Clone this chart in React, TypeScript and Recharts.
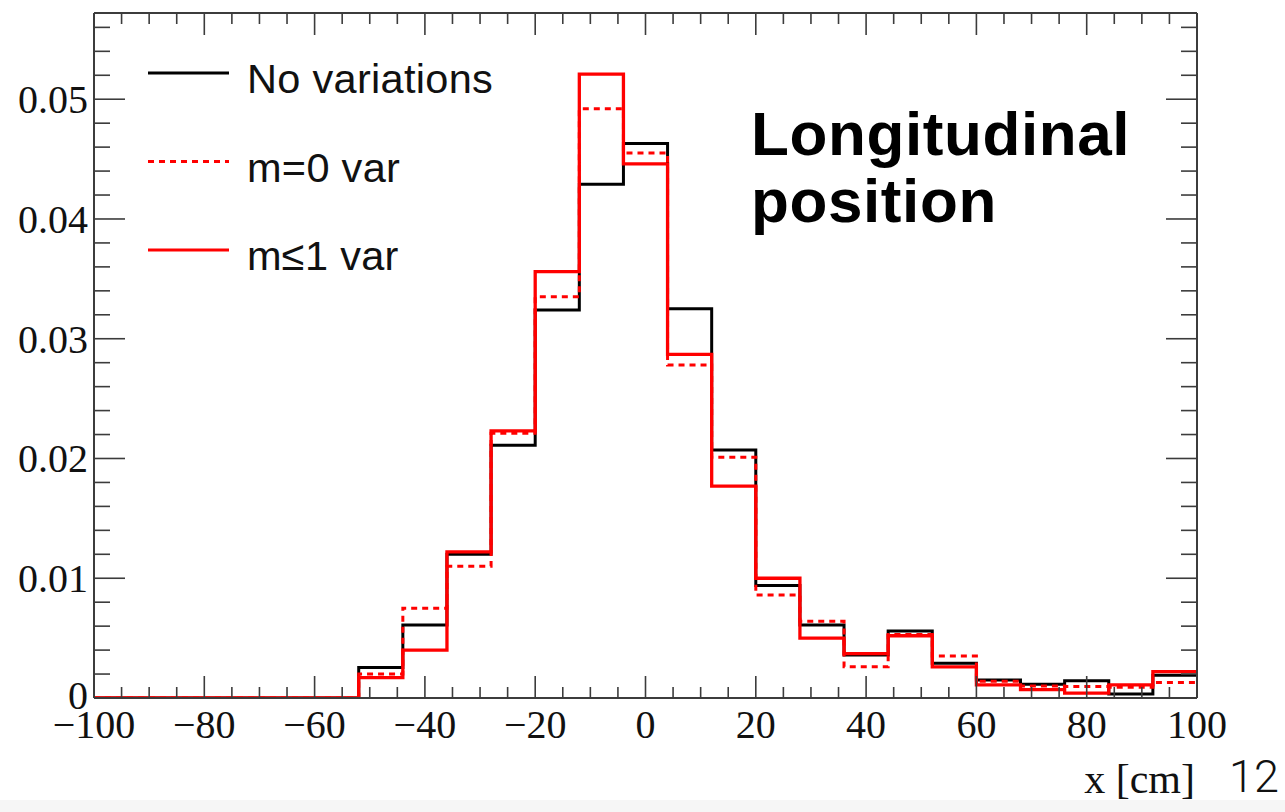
import React from 'react';
import { ComposedChart, Line, XAxis, YAxis, Legend } from 'recharts';

// Bin edges (cm) of the histogram, 25 bins of width 8
const binEdges = [-100, -92, -84, -76, -68, -60, -52, -44, -36, -28, -20, -12, -4, 4, 12, 20, 28, 36, 44, 52, 60, 68, 76, 84, 92, 100];

// Bin contents (one per bin)
const noVariations = [0, 0, 0, 0, 0, 0, 0.00254, 0.0061, 0.0120, 0.0211, 0.0324, 0.0429, 0.0463, 0.0325, 0.0207, 0.0094, 0.0061, 0.0036, 0.0056, 0.0029, 0.0015, 0.00114, 0.00145, 0.00033, 0.0019];
const m0Var = [0, 0, 0, 0, 0, 0, 0.0020, 0.0075, 0.0110, 0.0221, 0.0335, 0.0492, 0.0455, 0.0278, 0.0201, 0.0086, 0.0064, 0.0026, 0.0053, 0.0035, 0.0014, 0.0010, 0.00095, 0.0009, 0.0013];
const m1Var = [0, 0, 0, 0, 0, 0, 0.0017, 0.0040, 0.0122, 0.0223, 0.0356, 0.0521, 0.0446, 0.0287, 0.0177, 0.0100, 0.0050, 0.0037, 0.0052, 0.0026, 0.0011, 0.0007, 0.0004, 0.0011, 0.0022];

const seriesNames = ['No variations', 'm=0 var', 'm\u22641 var'];

// Axis ticks
const xTicks = [-100, -95, -90, -85, -80, -75, -70, -65, -60, -55, -50, -45, -40, -35, -30, -25, -20, -15, -10, -5, 0, 5, 10, 15, 20, 25, 30, 35, 40, 45, 50, 55, 60, 65, 70, 75, 80, 85, 90, 95, 100];
const xTickLabels: Record<number, string> = { [-100]: '\u2212100', [-80]: '\u221280', [-60]: '\u221260', [-40]: '\u221240', [-20]: '\u221220', 0: '0', 20: '20', 40: '40', 60: '60', 80: '80', 100: '100' };
const yTicks = [0, 0.002, 0.004, 0.006, 0.008, 0.01, 0.012, 0.014, 0.016, 0.018, 0.02, 0.022, 0.024, 0.026, 0.028, 0.03, 0.032, 0.034, 0.036, 0.038, 0.04, 0.042, 0.044, 0.046, 0.048, 0.05, 0.052, 0.054, 0.056];
const yTickLabels: Record<string, string> = { '0': '0', '0.01': '0.01', '0.02': '0.02', '0.03': '0.03', '0.04': '0.04', '0.05': '0.05' };

const data = binEdges.map((x, i) => {
  const k = Math.min(i, noVariations.length - 1);
  return { x, noVar: noVariations[k], m0: m0Var[k], m1: m1Var[k] };
});

const FRAME = '#3c3c3c';
const SERIF = '"Liberation Serif", "Times New Roman", serif';
const SANS = '"Liberation Sans", Arial, Helvetica, sans-serif';

const isMajorX = (v: number) => Math.abs(v % 20) < 1e-9;
const yKey = (v: number) => String(Math.round(v * 1000) / 1000);
const isMajorY = (v: number) => yTickLabels[yKey(v)] !== undefined;

const BottomTick = (props: any) => {
  const { x, y, payload } = props;
  const v = payload.value;
  const major = isMajorX(v);
  return (
    <g>
      <line x1={x} x2={x} y1={y} y2={y - (major ? 22 : 11)} stroke={FRAME} strokeWidth={1.6} />
      {major && (
        <text x={x} y={y + 40} textAnchor="middle" fontFamily={SERIF} fontSize={40} fill="#111">
          {xTickLabels[v]}
        </text>
      )}
    </g>
  );
};

const TopTick = (props: any) => {
  const { x, y, payload } = props;
  const major = isMajorX(payload.value);
  return <line x1={x} x2={x} y1={y} y2={y + (major ? 22 : 11)} stroke={FRAME} strokeWidth={1.6} />;
};

const LeftTick = (props: any) => {
  const { x, y, payload } = props;
  const v = payload.value;
  const major = isMajorY(v);
  const isZero = Math.abs(v) < 1e-9;
  return (
    <g>
      <line x1={x} x2={x + (major ? 31 : 16)} y1={y} y2={y} stroke={FRAME} strokeWidth={1.6} />
      {major && (
        <text x={x - 6} y={y + (isZero ? 11 : 14)} textAnchor="end" fontFamily={SERIF} fontSize={40} fill="#111">
          {yTickLabels[yKey(v)]}
        </text>
      )}
    </g>
  );
};

const RightTick = (props: any) => {
  const { x, y, payload } = props;
  const major = isMajorY(payload.value);
  return <line x1={x} x2={x - (major ? 31 : 16)} y1={y} y2={y} stroke={FRAME} strokeWidth={1.6} />;
};

const lineStyles = [
  { stroke: '#000000', dash: undefined as string | undefined },
  { stroke: '#ff0000', dash: '6 5' },
  { stroke: '#ff0000', dash: undefined as string | undefined },
];

const LegendContent = (props: any) => {
  const payload = props.payload || [];
  return (
    <svg width={520} height={300} style={{ overflow: 'visible' }}>
      {seriesNames.map((name, i) => {
        const ly = 73 + i * 88.5;
        const entry = payload[i];
        const st = lineStyles[i];
        return (
          <g key={name}>
            <line x1={148} x2={229} y1={ly} y2={ly} stroke={entry?.color || st.stroke} strokeWidth={3} strokeDasharray={st.dash} />
            <text x={247} y={ly + 20} fontFamily={SANS} fontSize={41.5} letterSpacing={0.3} fill="#111">
              {entry?.value || name}
            </text>
          </g>
        );
      })}
    </svg>
  );
};

export default function App() {
  return (
    <div style={{ position: 'absolute', left: 0, top: 0, width: 1285, height: 812, background: '#fff' }}>
      <div style={{ position: 'absolute', left: 0, top: 800, width: 1285, height: 12, background: '#f6f6f6' }} />
      <ComposedChart width={1285} height={812} data={data} margin={{ top: 0, right: 0, bottom: 0, left: 0 }}>
        <XAxis xAxisId="b" dataKey="x" type="number" domain={[-100, 100]} allowDataOverflow ticks={xTicks} interval={0}
          orientation="bottom" height={114} tickSize={0} tickMargin={0} tickLine={false}
          axisLine={{ stroke: FRAME, strokeWidth: 2 }} tick={<BottomTick />} />
        <XAxis xAxisId="t" dataKey="x" type="number" domain={[-100, 100]} allowDataOverflow ticks={xTicks} interval={0}
          orientation="top" height={13} tickSize={0} tickMargin={0} tickLine={false}
          axisLine={{ stroke: FRAME, strokeWidth: 2 }} tick={<TopTick />} />
        <YAxis yAxisId="l" type="number" domain={[0, 0.0572]} allowDataOverflow ticks={yTicks} interval={0}
          orientation="left" width={94} tickSize={0} tickMargin={0} tickLine={false}
          axisLine={{ stroke: FRAME, strokeWidth: 2 }} tick={<LeftTick />} />
        <YAxis yAxisId="r" type="number" domain={[0, 0.0572]} allowDataOverflow ticks={yTicks} interval={0}
          orientation="right" width={88} tickSize={0} tickMargin={0} tickLine={false}
          axisLine={{ stroke: FRAME, strokeWidth: 2 }} tick={<RightTick />} />
        <Line xAxisId="b" yAxisId="l" type="stepAfter" dataKey="noVar" name={seriesNames[0]} stroke="#000000"
          strokeWidth={3} dot={false} activeDot={false} isAnimationActive={false} />
        <Line xAxisId="t" yAxisId="r" type="stepAfter" dataKey="m0" name={seriesNames[1]} stroke="#ff0000"
          strokeWidth={3} strokeDasharray="6 5" dot={false} activeDot={false} isAnimationActive={false} />
        <Line xAxisId="b" yAxisId="l" type="stepAfter" dataKey="m1" name={seriesNames[2]} stroke="#ff0000"
          strokeWidth={3.3} dot={false} activeDot={false} isAnimationActive={false} />
        <Legend layout="horizontal" verticalAlign="middle" align="center" content={<LegendContent />}
          wrapperStyle={{ position: 'absolute', left: 0, top: 0, width: 520, height: 300 }} />
      </ComposedChart>
      <svg width={1285} height={812} style={{ position: 'absolute', left: 0, top: 0, pointerEvents: 'none' }}>
        <text x={751} y={155} fontFamily={SANS} fontWeight="bold" fontSize={62} letterSpacing={0.6} fill="#000">Longitudinal</text>
        <text x={751} y={222} fontFamily={SANS} fontWeight="bold" fontSize={62} letterSpacing={0.6} fill="#000">position</text>
        <text x={1195} y={793} textAnchor="end" fontFamily={SERIF} fontSize={42} fill="#111">x [cm]</text>
        <text x={1229} y={792} fontFamily='Roboto, "Liberation Sans", sans-serif' fontWeight={300} fontSize={45} fill="#111">12</text>
      </svg>
    </div>
  );
}
